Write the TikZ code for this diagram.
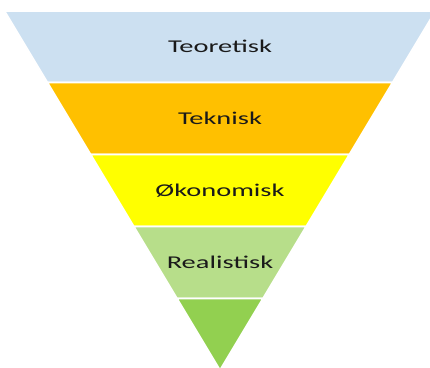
\documentclass[tikz,border=0pt]{standalone}
\usepackage{fontspec}
\setmainfont{Carlito}
\definecolor{bandA}{HTML}{CCE0F1}
\definecolor{bandB}{HTML}{FFC000}
\definecolor{bandC}{HTML}{FFFF00}
\definecolor{bandD}{HTML}{B7DE8A}
\definecolor{bandE}{HTML}{92D050}
\definecolor{txt}{HTML}{1A1A1A}
\begin{document}
\begin{tikzpicture}[x=1pt,y=-1pt,
  band/.style={draw=white,line width=1.6pt,line join=miter},
  lbl/.style={font=\fontsize{18}{20}\selectfont,text=txt,xscale=1.58,transform shape,inner sep=0pt}]
\useasboundingbox (0,0) rectangle (430,367);
\clip (0,0) rectangle (430,367);
\fill[white] (0,0) rectangle (430,367);
\filldraw[band,fill=bandA] (4.6,11) -- (435.4,11) -- (392.5,82.5) -- (47.5,82.5) -- cycle;
\filldraw[band,fill=bandB] (47.5,82.5) -- (392.5,82.5) -- (349.3,154.5) -- (90.7,154.5) -- cycle;
\filldraw[band,fill=bandC] (90.7,154.5) -- (349.3,154.5) -- (306.1,226.5) -- (133.9,226.5) -- cycle;
\filldraw[band,fill=bandD] (133.9,226.5) -- (306.1,226.5) -- (262.9,298.5) -- (177.1,298.5) -- cycle;
\filldraw[band,fill=bandE] (177.1,298.5) -- (262.9,298.5) -- (220,370) -- cycle;
\node[lbl] (t1) at (220,46.5) {Teoretisk};
\node[lbl] (t2) at (220,118.5) {Teknisk};
\node[lbl] (t3) at (220,190.5) {Økonomisk};
\node[lbl] (t4) at (220,262.5) {Realistisk};
\end{tikzpicture}
\end{document}
